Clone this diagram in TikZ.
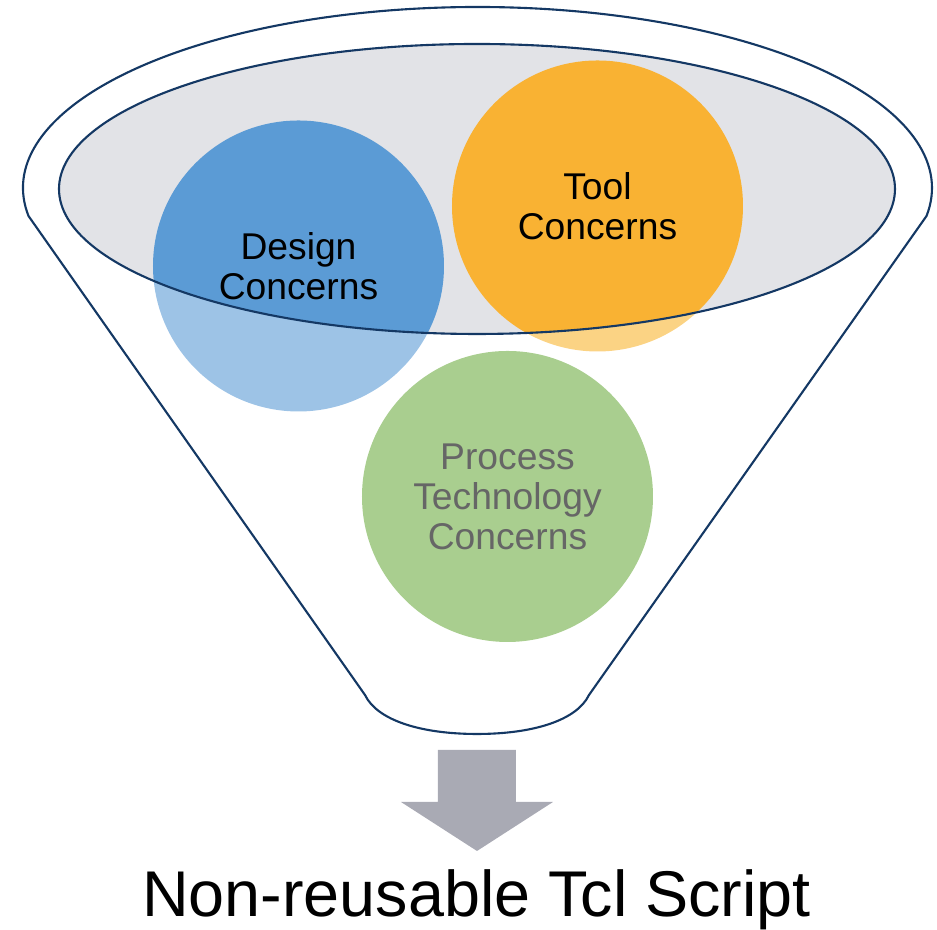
\documentclass[tikz,border=0pt]{standalone}
\usepackage{fontspec}
\setmainfont{Liberation Sans}

\definecolor{rimblue}{HTML}{143864}
\definecolor{rimgray}{HTML}{E2E3E7}
\definecolor{designblue}{HTML}{5B9BD5}
\definecolor{designlight}{HTML}{9DC3E6}
\definecolor{toolorange}{HTML}{F9B233}
\definecolor{toollight}{HTML}{FBD384}
\definecolor{processgreen}{HTML}{A9CE8F}
\definecolor{processtext}{HTML}{666666}
\definecolor{outflowgray}{HTML}{A9AAB4}

\begin{document}
\begin{tikzpicture}[
        rim/.style={draw=rimblue, line width=0.6pt},
        concern/.style={circle, minimum size=2.91cm, inner sep=0pt},
        caption/.style={align=center, font=\fontsize{10.6}{11.4}\selectfont}]
    \useasboundingbox (0,0) rectangle (9.37,9.30);

    % funnel body
    \draw[rim] (0.285,7.14)
        arc[start angle=188.9, end angle=-8.9, x radius=4.545cm, y radius=1.81cm]
        -- (5.89,2.35) .. controls (5.77,2.10) and (5.34,1.96) .. (4.77,1.96)
        .. controls (4.20,1.96) and (3.77,2.10) .. (3.65,2.35) -- cycle;

    % circles below the rim
    \node[concern, fill=designlight] (design) at (2.985,6.64) {};
    \node[concern, fill=toollight] (tool) at (5.975,7.24) {};

    % rim surface
    \fill[rimgray] (4.77,7.41) ellipse[x radius=4.18cm, y radius=1.45cm];
    \begin{scope}
        \clip (4.77,7.41) ellipse[x radius=4.18cm, y radius=1.45cm];
        \fill[designblue] (design.center) circle[radius=1.455cm];
        \fill[toolorange] (tool.center) circle[radius=1.455cm];
    \end{scope}
    \draw[rim] (4.77,7.41) ellipse[x radius=4.18cm, y radius=1.45cm];

    \node[caption] (designtext) at (design.center) {Design\\Concerns};
    \node[caption] (tooltext) at (tool.center) {Tool\\Concerns};
    \node[concern, caption, fill=processgreen, text=processtext] (process)
        at (5.075,4.335) {Process\\Technology\\Concerns};

    % outflow arrow
    \fill[outflowgray] (4.38,1.80) -- (5.16,1.80) -- (5.16,1.28) -- (5.53,1.28)
        -- (4.77,0.79) -- (4.01,1.28) -- (4.38,1.28) -- cycle;
    \node[anchor=base, font=\fontsize{18.4}{21}\selectfont] (result)
        at (4.765,0.13) {Non-reusable Tcl Script};
\end{tikzpicture}
\end{document}
